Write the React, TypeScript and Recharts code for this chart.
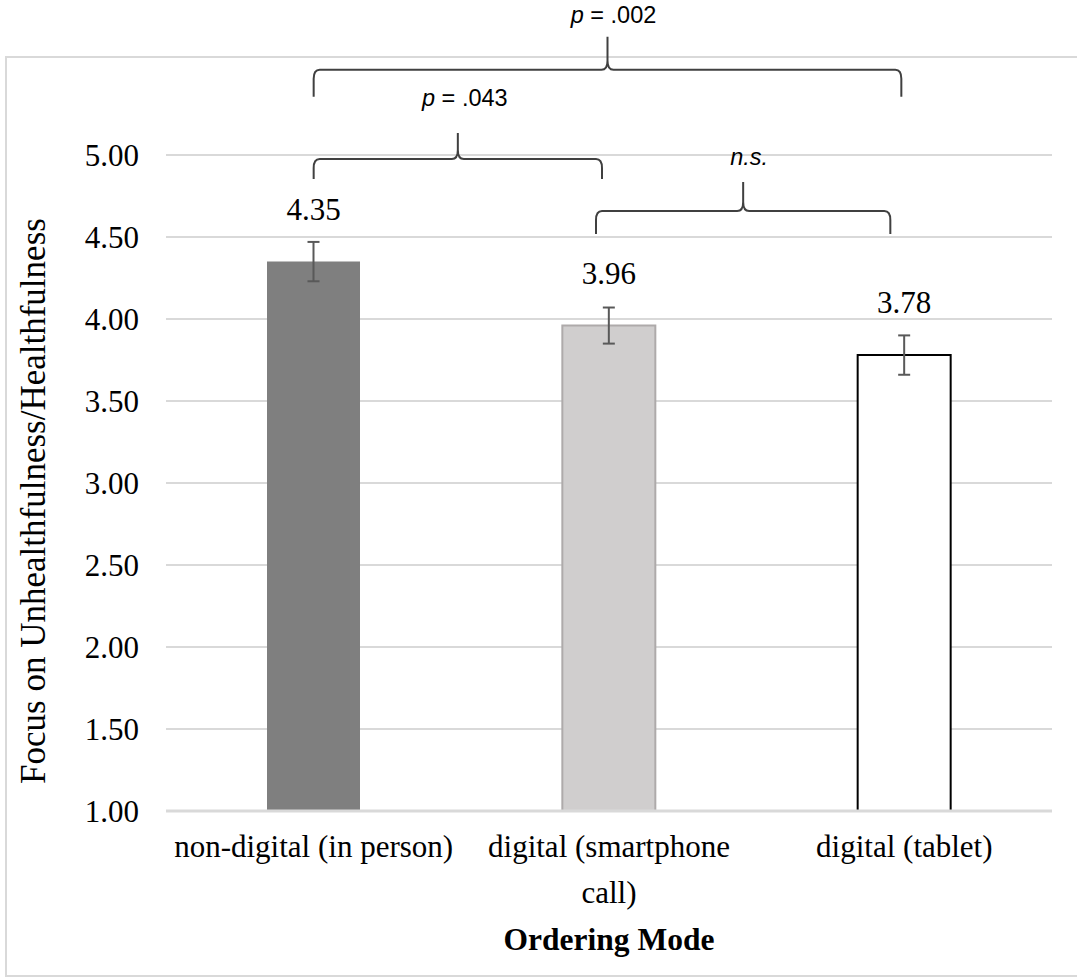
import React from 'react';
import {
  BarChart,
  Bar,
  XAxis,
  YAxis,
  CartesianGrid,
  Cell,
  ErrorBar,
  LabelList,
  ReferenceLine,
  Label,
} from 'recharts';

// ---- data ----
const modes = ['non-digital (in person)', 'digital (smartphone call)', 'digital (tablet)'];
const means = [4.35, 3.96, 3.78];
const stdErrors = [0.12, 0.11, 0.12];
const yTicks = [1, 1.5, 2, 2.5, 3, 3.5, 4, 4.5, 5];

// pairwise comparisons drawn as curly braces above the bars
const comparisons = [
  { from: 0, to: 2, level: 5.52, italic: 'p', rest: ' = .002' },
  { from: 0, to: 1, level: 4.976, italic: 'p', rest: ' = .043' },
  { from: 1, to: 2, level: 4.659, italic: 'n.s.', rest: '' },
];

// ---- styles ----
const barFills = ['#7f7f7f', '#d0cece', '#ffffff'];
const barStrokes = ['none', '#aeaaaa', '#000000'];
const braceStyles = [
  { dx1: 0, dx2: -3, drop: 27, rise: 33, labelDx: 6, labelGap: 14 },
  { dx1: 0, dx2: -7, drop: 20, rise: 26, labelDx: 7, labelGap: 27 },
  { dx1: -13, dx2: -14, drop: 23, rise: 29, labelDx: 6, labelGap: 17 },
];

const SERIF = '"Liberation Serif", "Times New Roman", serif';
const SANS = '"Liberation Sans", Arial, sans-serif';
const GRID = '#d9d9d9';
const TICK_FONT = 31;
const TICK_WRAP = 292;

const rows = modes.map((mode, i) => ({ mode, mean: means[i], err: stdErrors[i] }));

// greedy word wrap for category labels, measured with the tick font
let measureCtx: CanvasRenderingContext2D | null = null;
const textWidth = (s: string) => {
  if (!measureCtx) measureCtx = document.createElement('canvas').getContext('2d');
  if (!measureCtx) return s.length * TICK_FONT * 0.45;
  measureCtx.font = `${TICK_FONT}px "Liberation Serif", "Times New Roman", serif`;
  return measureCtx.measureText(s).width;
};
const wrapLabel = (label: string, maxWidth: number) => {
  const words = label.split(' ');
  const lines: string[] = [];
  let cur = '';
  words.forEach((w) => {
    const next = cur ? `${cur} ${w}` : w;
    if (cur && textWidth(next) > maxWidth) {
      lines.push(cur);
      cur = w;
    } else {
      cur = next;
    }
  });
  if (cur) lines.push(cur);
  return lines;
};

const renderBrace = (p: any, i: number) => {
  const s = braceStyles[i];
  const c = comparisons[i];
  const xa = Number(p.x1) + s.dx1;
  const xb = Number(p.x2) + s.dx2;
  const y = Number(p.y1);
  const xm = (xa + xb) / 2;
  const rx = 6;
  const ry = 9;
  const d =
    `M${xa},${y + s.drop} L${xa},${y + ry} Q${xa},${y} ${xa + rx},${y} L${xm - rx},${y} ` +
    `Q${xm},${y} ${xm},${y - ry} L${xm},${y - s.rise} ` +
    `M${xm},${y - s.rise} L${xm},${y - ry} Q${xm},${y} ${xm + rx},${y} L${xb - rx},${y} ` +
    `Q${xb},${y} ${xb},${y + ry} L${xb},${y + s.drop}`;
  return (
    <g>
      <path d={d} fill="none" stroke="#404040" strokeWidth={2} />
      <text
        x={xm + s.labelDx}
        y={y - s.rise - s.labelGap}
        textAnchor="middle"
        fontFamily={SANS}
        fontSize={23.5}
        fill="#000"
      >
        <tspan fontStyle="italic">{c.italic}</tspan>
        {c.rest ? <tspan>{c.rest}</tspan> : null}
      </text>
    </g>
  );
};

const XTick = (props: any) => {
  const { x, y, payload } = props;
  const lines = wrapLabel(String(payload.value), TICK_WRAP);
  return (
    <text x={x} y={y} textAnchor="middle" fontFamily={SERIF} fontSize={TICK_FONT} fill="#000">
      {lines.map((line, i) => (
        <tspan key={i} x={x} dy={i === 0 ? TICK_FONT * 0.71 : 46}>
          {line}
        </tspan>
      ))}
    </text>
  );
};

const YTitle = (props: any) => {
  const vb = props.viewBox || { x: 0, y: 155, width: 166, height: 656 };
  const x = vb.x + 45;
  const y = vb.y + vb.height / 2 + 18;
  return (
    <text
      x={x}
      y={y}
      transform={`rotate(-90, ${x}, ${y})`}
      textAnchor="middle"
      fontFamily={SERIF}
      fontSize={35}
      fill="#000"
    >
      Focus on Unhealthfulness/Healthfulness
    </text>
  );
};

const XTitle = (props: any) => {
  const vb = props.viewBox || { x: 166, y: 811, width: 886, height: 168 };
  return (
    <text
      x={vb.x + vb.width / 2}
      y={vb.y + 139}
      textAnchor="middle"
      fontFamily={SERIF}
      fontWeight="bold"
      fontSize={31.5}
      fill="#000"
    >
      Ordering Mode
    </text>
  );
};

const ValueLabel = (props: any) => {
  const { x, y, width, value } = props;
  return (
    <text
      x={Number(x) + Number(width) / 2}
      y={Number(y) - 42}
      textAnchor="middle"
      fontFamily={SERIF}
      fontSize={31}
      fill="#000"
    >
      {Number(value).toFixed(2)}
    </text>
  );
};

export default function App() {
  return (
    <div style={{ position: 'absolute', left: 0, top: 0, width: 1077, height: 979, background: '#fff' }}>
      <div
        style={{
          position: 'absolute',
          left: 5,
          top: 56,
          width: 1090,
          height: 921,
          border: `2px solid ${GRID}`,
          boxSizing: 'border-box',
        }}
      />
      <div style={{ position: 'absolute', left: 0, top: 0 }}>
        <BarChart
          width={1077}
          height={979}
          data={rows}
          margin={{ top: 155, right: 25, bottom: 0, left: 0 }}
          barSize={93}
        >
          <CartesianGrid vertical={false} stroke={GRID} strokeWidth={2} />
          <XAxis
            dataKey="mode"
            height={168}
            tickLine={false}
            tickSize={0}
            tickMargin={24}
            axisLine={{ stroke: GRID, strokeWidth: 3 }}
            tick={<XTick />}
            interval={0}
          >
            <Label content={<XTitle />} />
          </XAxis>
          <YAxis
            domain={[1, 5]}
            ticks={yTicks}
            width={166}
            axisLine={false}
            tickLine={false}
            tickSize={0}
            tickMargin={27}
            tickFormatter={(v: number) => v.toFixed(2)}
            tick={{ fontFamily: SERIF, fontSize: 31, fill: '#000' }}
          >
            <Label content={<YTitle />} />
          </YAxis>
          <Bar dataKey="mean" isAnimationActive={false}>
            {rows.map((r, i) => (
              <Cell
                key={r.mode}
                fill={barFills[i]}
                stroke={barStrokes[i]}
                strokeWidth={barStrokes[i] === 'none' ? 0 : 2}
              />
            ))}
            <ErrorBar dataKey="err" width={6} stroke="#595959" strokeWidth={2} isAnimationActive={false} />
            <LabelList dataKey="mean" content={<ValueLabel />} />
          </Bar>
          {comparisons.map((c, i) => (
            <ReferenceLine
              key={`cmp-${i}`}
              segment={[
                { x: modes[c.from], y: c.level },
                { x: modes[c.to], y: c.level },
              ]}
              ifOverflow="visible"
              stroke="#404040"
              shape={(p: any) => renderBrace(p, i)}
            />
          ))}
        </BarChart>
      </div>
    </div>
  );
}
